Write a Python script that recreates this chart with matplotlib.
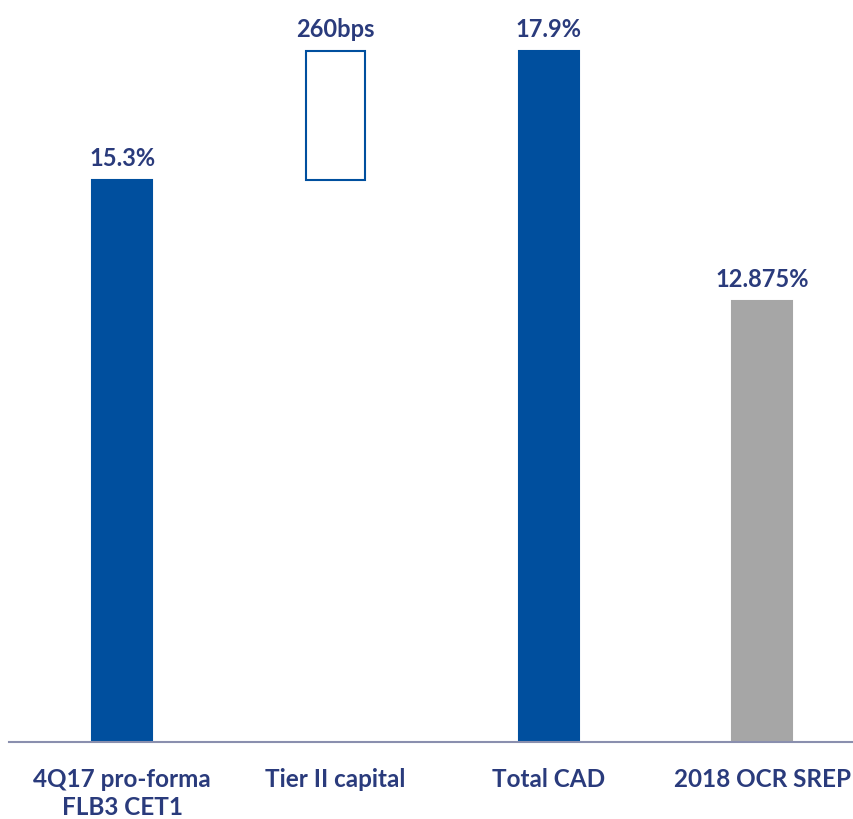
import matplotlib.pyplot as plt

categories = ['4Q17 pro-forma\nFLB3 CET1', 'Tier II capital', 'Total CAD', '2018 OCR SREP']
bottoms = [0.0, 15.3, 0.0, 0.0]
heights = [15.3, 2.6, 17.9, 12.875]
labels = ['15.3%', '260bps', '17.9%', '12.875%']

blue = '#004f9e'
grey = '#a6a6a6'
navy = '#2a3b7c'
faces = [blue, 'white', blue, grey]
edges = [blue, blue, blue, grey]

fig = plt.figure(figsize=(8.54, 8.19), dpi=100)
ax = fig.add_axes([9/854, 77/819, 845/854, 742/819])

x = range(len(categories))
ax.bar(x, heights, bottom=bottoms, width=0.28, color=faces, edgecolor=edges, linewidth=1.5)

for i, (b, h, lab) in enumerate(zip(bottoms, heights, labels)):
    ax.text(i, b + h + 0.2, lab, ha='center', va='bottom', fontsize=17,
            fontweight='bold', color=navy, family='Lato')

ax.set_xlim(-0.53, 3.43)
ax.set_ylim(4.0, 18.93)
ax.set_xticks(list(x))
ax.set_xticklabels(categories, fontsize=17.5, fontweight='bold', color=navy, family='Lato',
                   linespacing=1.25)
ax.tick_params(axis='x', length=0, pad=19)
ax.set_yticks([])
for s in ['top', 'right', 'left']:
    ax.spines[s].set_visible(False)
ax.spines['bottom'].set_color('#8a8fae')
ax.spines['bottom'].set_linewidth(1.5)

plt.savefig('out.png')
